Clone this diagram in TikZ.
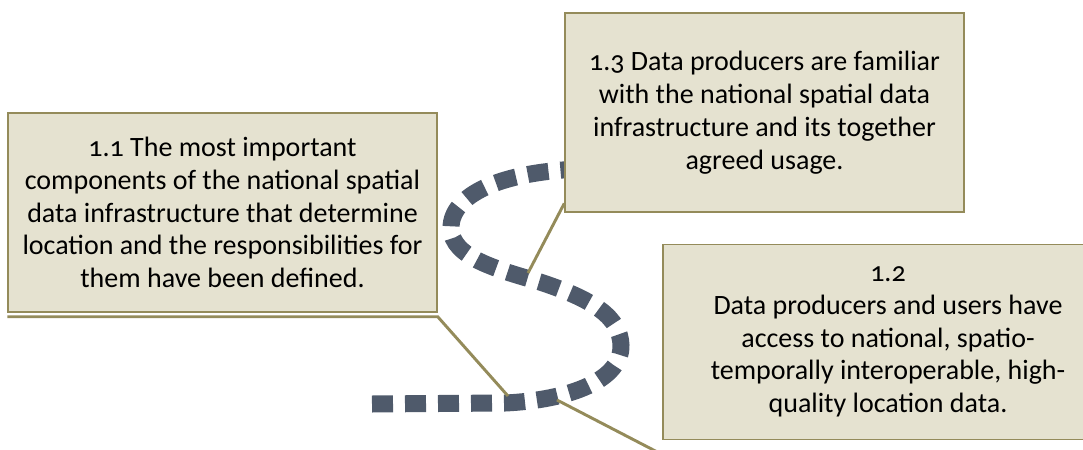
\documentclass[tikz,border=0pt]{standalone}
\usepackage{fontspec}
\setmainfont{Carlito}[Numbers=OldStyle]
\definecolor{boxfill}{HTML}{E5E2D0}
\definecolor{boxline}{HTML}{948B5A}
\definecolor{roadgray}{HTML}{4F5A6B}
\tikzset{
    goalbox/.style = {rectangle, draw=boxline, fill=boxfill, line width=1.1pt, align=center, inner sep=0pt, font=\fontsize{21}{24.6}\selectfont},
    callout/.style = {draw=boxline, line width=2.2pt},
    road/.style = {draw=roadgray, line width=12.75pt, dash pattern=on 15.75pt off 9pt}
}
\begin{document}
\begin{tikzpicture}[x=0.75pt, y=-0.75pt]
    \useasboundingbox (0,0) rectangle (1083,450);
    \clip (0,0) rectangle (1083,450);

    \draw[road] (372,404) -- (505,403)
        .. controls (570,400) and (622,380) .. (621,345)
        .. controls (620,318) and (595,300) .. (540,282)
        .. controls (500,270) and (451,258) .. (451,228)
        .. controls (451,195) and (500,172) .. (580,169);

    \node[goalbox, minimum width=321.75pt, minimum height=149.25pt] (b11) at (222.5,212.5)
        {1.1 The most important\\components of the national spatial\\data infrastructure that determine\\location and the responsibilities for\\them have been defined.};
    \node[goalbox, minimum width=299.25pt, minimum height=149.25pt] (b13) at (764.5,112.5)
        {1.3 Data producers are familiar\\with the national spatial data\\infrastructure and its together\\agreed usage.};
    \node[goalbox, minimum width=337.5pt, minimum height=146.25pt] (b12) at (888,342)
        {1.2\\Data producers and users have\\access to national, spatio-\\temporally interoperable, high-\\quality location data.};

    \coordinate (p11) at (508,396);
    \coordinate (p13) at (528,273);
    \coordinate (p12) at (557,400);
    \coordinate (q12) at (665,456);

    \draw[callout] ([yshift=-3pt]b11.south west) -- ([yshift=-3pt]b11.south east) -- (p11);
    \draw[callout] ([yshift=7pt]b13.south west) -- (p13);
    \draw[callout] (q12) -- (p12);
\end{tikzpicture}
\end{document}
